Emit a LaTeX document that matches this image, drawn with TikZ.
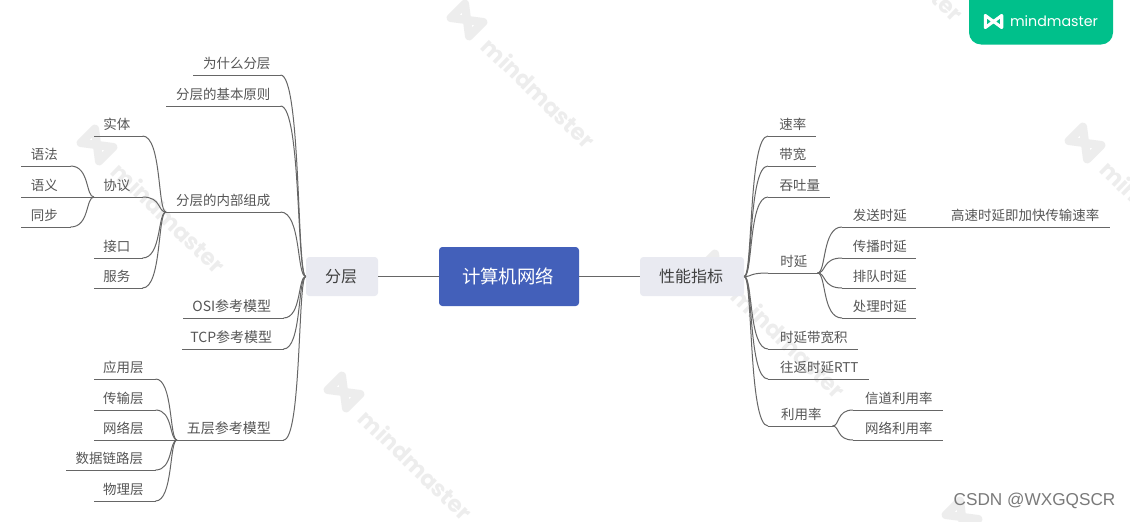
\documentclass[tikz,border=0pt]{standalone}
\usepackage{fontspec}
\usepackage{graphicx}
\setmainfont{Noto Sans CJK SC}
\newfontfamily\brandf{Poppins}
\newfontfamily\markf{Liberation Sans}
\usetikzlibrary{calc}
\definecolor{linec}{HTML}{666666}
\definecolor{textc}{HTML}{555555}
\definecolor{rootc}{HTML}{4360BA}
\definecolor{branchc}{HTML}{E9EAF1}
\definecolor{wmc}{HTML}{EDEDED}
\definecolor{greenc}{HTML}{00C08B}
\tikzset{
  x=0.75pt,y=-0.75pt,
  leaf/.style={anchor=south west,inner sep=0pt,text=textc,font=\fontsize{10.1pt}{12pt}\selectfont,text height=9pt,text depth=4.9pt,align=center},
  lside/.style={execute at end node=\hspace{2.2pt}},
  rside/.style={execute at begin node=\hspace{1.6pt}},
  wide/.style={font=\fontsize{10.5pt}{12pt}\selectfont},
  link/.style={draw=linec,line width=0.75pt},
  rootbox/.style={fill=rootc,text=white,rounded corners=2.5pt,inner sep=0pt,minimum width=105pt,minimum height=44.25pt,font=\fontsize{13.8pt}{16pt}\selectfont,execute at end node=\hspace{1.5pt}},
  branchbox/.style={fill=branchc,text=black!75,rounded corners=2.5pt,inner sep=0pt,minimum height=29.25pt,font=\fontsize{12pt}{14pt}\selectfont,execute at end node=\hspace{1.5pt}},
  wmlogo/.style={draw=wmc,line width=6.2pt,line join=round},
  wmtext/.style={text=wmc,inner sep=0pt,rotate=-44,font=\brandf\bfseries},
}
% #1 options, #2 name, #3 x1, #4 x2, #5 y of the rule, #6 text
\newcommand{\leafnode}[6][]{%
  \node[leaf,#1,minimum width={(#4-#3)*0.75pt}] (#2) at (#3,#5) {#6};
  \draw[link] (#2.south west) -- (#2.south east);
}
% curve from the point #1 to the point #2
\newcommand{\linkto}[2]{%
  \draw[link] (#1) .. controls ($(#1)!.82!(#1 -| #2)$) and ($(#2)!.36!(#2 -| #1)$) .. (#2);
}
\newcommand{\wmark}[3]{%
  \draw[wmlogo,shift={(#2,#3)},rotate=-45] (-13,-10) -- (-13,10) -- (13,-10) -- (13,10) -- cycle;
  \node[wmtext] (#1) at (#2+72,#3+73) {\resizebox{110pt}{!}{mindmaster}};
}
\begin{document}
\begin{tikzpicture}
\useasboundingbox (0,0) rectangle (1130,521);
\fill[white] (0,0) rectangle (1130,521);
\begin{scope}
\clip (0,0) rectangle (1130,521);
\wmark{wa}{467}{20}
\wmark{wb}{97}{145}
\wmark{wc}{344}{392}
\wmark{wd}{717}{270}
\wmark{we}{1085}{143}
\wmark{wf}{835}{-107}
\wmark{wg}{962}{517}
\fill[greenc,rounded corners=9pt] (969,-20) rectangle (1113,44.5);
\draw[white,line width=2.3pt,line join=round,shift={(993.5,21.5)}] (-8.2,-6) -- (-8.2,6) -- (8.2,-6) -- (8.2,6) -- cycle;
\node[inner sep=0pt,text=white,font=\brandf] (brand) at (1054,21) {\resizebox{66pt}{!}{mindmaster}};
\end{scope}

\node[rootbox] (root) at (509,276.5) {计算机网络};
\node[branchbox,minimum width=54pt] (fc) at (342,276.5) {分层};
\node[branchbox,minimum width=78pt] (xn) at (692,276.5) {性能指标};
\draw[link] (root.west) -- (fc.east);
\draw[link] (root.east) -- (xn.west);

% left side
\leafnode{a1}{193}{280}{75}{为什么分层}
\leafnode{a2}{166}{280}{106}{分层的基本原则}
\leafnode{a3}{166}{280}{212}{分层的内部组成}
\leafnode[lside,wide]{a4}{183}{283}{318}{OSI参考模型}
\leafnode[lside,wide]{a5}{182}{283}{349}{TCP参考模型}
\leafnode[lside,wide]{a6}{177}{283}{440}{五层参考模型}
\foreach \n in {a1,a2,a3,a4,a5,a6} {\linkto{\n.south east}{fc.west}}

\leafnode[lside]{b1}{94}{142}{136}{实体}
\leafnode[lside]{b2}{94}{142}{197}{协议}
\leafnode[lside]{b3}{94}{142}{258}{接口}
\leafnode[lside]{b4}{94}{142}{288}{服务}
\foreach \n in {b1,b2,b3,b4} {\linkto{\n.south east}{a3.south west}}

\leafnode[lside]{c1}{21}{70}{166}{语法}
\leafnode[lside]{c2}{21}{70}{197}{语义}
\leafnode[lside]{c3}{21}{70}{227}{同步}
\linkto{c1.south east}{b2.south west}
\draw[link] (c2.south east) -- (b2.south west);
\linkto{c3.south east}{b2.south west}

\leafnode[lside]{d1}{94}{155}{379}{应用层}
\leafnode[lside]{d2}{94}{155}{410}{传输层}
\leafnode[lside]{d3}{94}{155}{440}{网络层}
\leafnode[lside]{d4}{66}{155}{470}{数据链路层}
\leafnode[lside]{d5}{94}{155}{501}{物理层}
\linkto{d1.south east}{a6.south west}
\linkto{d2.south east}{a6.south west}
\draw[link] (d3.south east) -- (a6.south west);
\linkto{d4.south east}{a6.south west}
\linkto{d5.south east}{a6.south west}

% right side
\leafnode[rside]{e1}{768}{815}{136}{速率}
\leafnode[rside]{e2}{768}{815}{166}{带宽}
\leafnode[rside]{e3}{768}{829}{197}{吞吐量}
\leafnode[rside]{e4}{768}{817}{273}{时延}
\leafnode[rside]{e5}{768}{857}{349}{时延带宽积}
\leafnode[rside]{e6}{768}{868}{379}{往返时延RTT}
\leafnode[rside]{e7}{768}{832}{426}{利用率}
\foreach \n in {e1,e2,e3,e4,e5,e6,e7} {\linkto{\n.south west}{xn.east}}

\leafnode[rside]{f1}{842}{915}{227}{发送时延}
\leafnode[rside]{f2}{842}{915}{258}{传播时延}
\leafnode[rside]{f3}{842}{915}{288}{排队时延}
\leafnode[rside]{f4}{842}{915}{318}{处理时延}
\foreach \n in {f1,f2,f3,f4} {\linkto{\n.south west}{e4.south east}}
\leafnode{g1}{941}{1109}{227}{高速时延即加快传输速率}
\draw[link] (f1.south east) -- (g1.south west);

\leafnode[rside]{h1}{853}{942}{410}{信道利用率}
\leafnode[rside]{h2}{853}{942}{440}{网络利用率}
\foreach \n in {h1,h2} {\linkto{\n.south west}{e7.south east}}

\node[inner sep=0pt,text=black!52,font=\markf\fontsize{12.9pt}{15pt}\selectfont] (csdn) at (1034.5,501) {CSDN @WXGQSCR};
\end{tikzpicture}
\end{document}
